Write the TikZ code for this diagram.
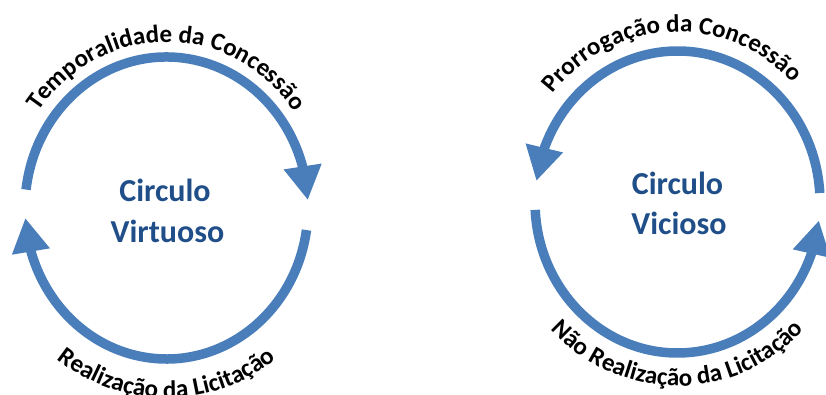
\documentclass[tikz,border=0pt]{standalone}
\usepackage{fontspec}
\setmainfont{Carlito}
\usetikzlibrary{arrows.meta,bending,decorations.text,calc}
\definecolor{arrowblue}{HTML}{4A7EBB}
\definecolor{textblue}{HTML}{1F4E89}
\newcommand\myarcfont{\fontsize{25}{30}\selectfont\bfseries}
\begin{document}
\begin{tikzpicture}[x=1pt,y=1pt,
  cyc/.style={draw=arrowblue, line width=9.5pt, -{Triangle[width=36pt,length=34pt]}},
  mid/.style={text=textblue, font=\fontsize{32}{38}\selectfont\bfseries, anchor=base, inner sep=0pt},
  arctext/.style={decorate, decoration={text along path, text align=center, text={|\myarcfont|#1}}}
]
\useasboundingbox (0,0) rectangle (826,395);
\clip (0,0) rectangle (826,395);
\coordinate (cl) at (166.5,187);
\coordinate (cr) at (677.5,193);

% left cycle
\draw[cyc] ($(cl)+(173:141.5pt and 151pt)$) arc[start angle=173, end angle=3, x radius=141.5pt, y radius=151pt];
\draw[cyc] ($(cl)+(-8.4:141.5pt and 151pt)$) arc[start angle=-8.4, end angle=-176.2, x radius=141.5pt, y radius=151pt];

% right cycle
\draw[cyc] ($(cr)+(3.4:142.5pt and 151pt)$) arc[start angle=3.4, end angle=172, x radius=142.5pt, y radius=151pt];
\draw[cyc] ($(cr)+(183:142.5pt and 151pt)$) arc[start angle=183, end angle=353, x radius=142.5pt, y radius=151pt];

% curved labels
\path[arctext={Temporalidade da Concessão}] ($(cl)+(180:156.5pt and 166pt)$) arc[start angle=180, end angle=0, x radius=156.5pt, y radius=166pt];
\path[arctext={Realização da Licitação}] ($(cl)+(180:180.5pt and 190pt)$) arc[start angle=180, end angle=360, x radius=180.5pt, y radius=190pt];
\path[arctext={Prorrogação da Concessão}] ($(cr)+(182.5:161.5pt and 170pt)$) arc[start angle=182.5, end angle=2.5, x radius=161.5pt, y radius=170pt];
\path[arctext={Não Realização da Licitação}] ($(cr)+(180:175.5pt and 184pt)$) arc[start angle=180, end angle=360, x radius=175.5pt, y radius=184pt];

% centre labels
\node[mid] (l1) at (165,193) {Circulo};
\node[mid] (l2) at (167.5,152) {Virtuoso};
\node[mid] (r1) at (677.5,200) {Circulo};
\node[mid] (r2) at (679,160) {Vicioso};
\end{tikzpicture}
\end{document}
